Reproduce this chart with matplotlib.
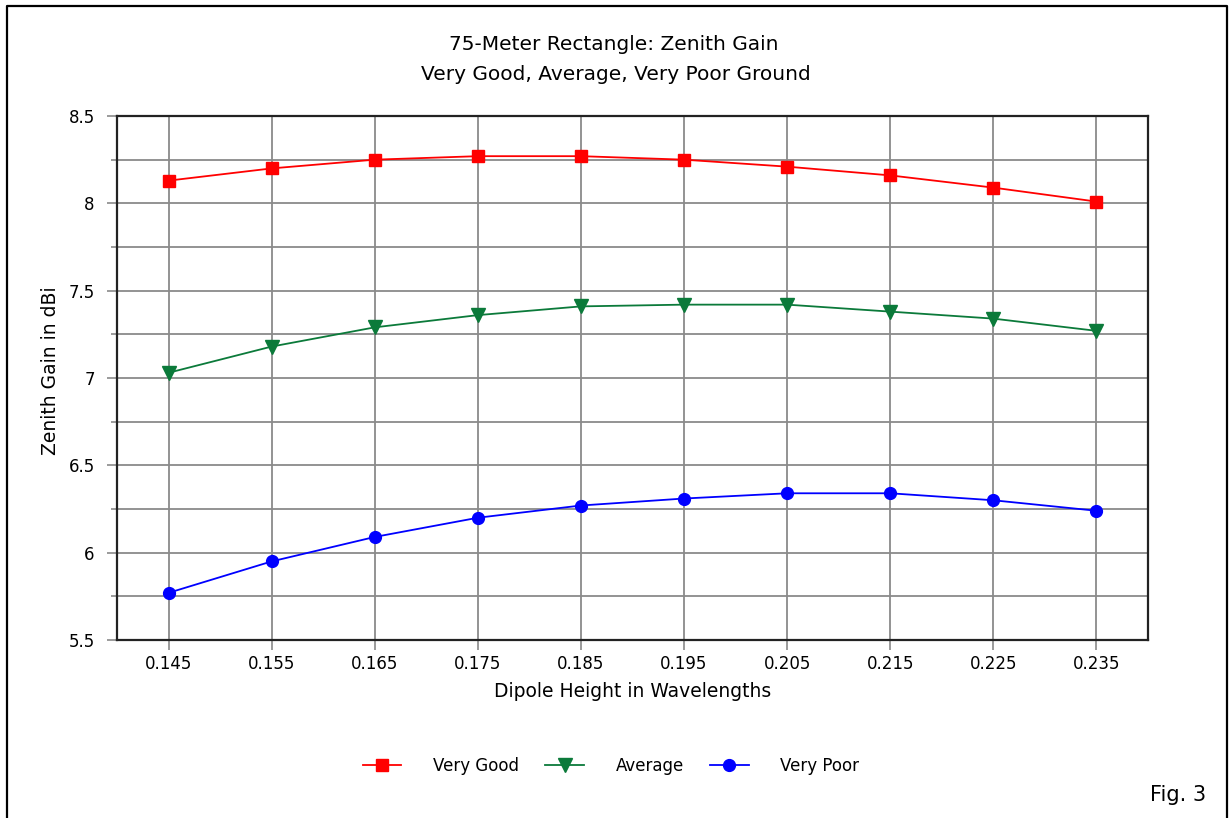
import numpy as np
import matplotlib
matplotlib.use("Agg")
import matplotlib.pyplot as plt
from matplotlib.lines import Line2D
from matplotlib.ticker import MultipleLocator, FuncFormatter

# data
heights = [0.145, 0.155, 0.165, 0.175, 0.185, 0.195, 0.205, 0.215, 0.225, 0.235]
very_good = [8.13, 8.20, 8.25, 8.27, 8.27, 8.25, 8.21, 8.16, 8.09, 8.01]
average = [7.03, 7.18, 7.29, 7.36, 7.41, 7.42, 7.42, 7.38, 7.34, 7.27]
very_poor = [5.77, 5.95, 6.09, 6.20, 6.27, 6.31, 6.34, 6.34, 6.30, 6.24]
x_ticklabels = ["0.145", "0.155", "0.165", "0.175", "0.185",
                "0.195", "0.205", "0.215", "0.225", "0.235"]

plt.rcParams['font.family'] = ['DejaVu Sans']

W, H = 1231, 818
fig = plt.figure(figsize=(W / 100, H / 100), dpi=100)

# pixel -> figure fraction
px = lambda x: x / W
py = lambda y: 1 - y / H

# frame around the picture (bottom edge is cut off in the original)
fig.add_artist(Line2D([px(7), px(7), px(1227), px(1227)],
                      [py(830), py(6), py(6), py(830)],
                      color="black", lw=1.6, transform=fig.transFigure))

ax = fig.add_axes([px(117), py(640), (1148 - 117) / W, (640 - 116) / H])

GRID = "#8a8a8a"
ax.plot(heights, very_good, color="#ff0000", lw=1.3, marker="s", ms=8.5, label="Very Good", zorder=5)
ax.plot(heights, average, color="#0b7a3a", lw=1.3, marker="v", ms=10, label="Average", zorder=5)
ax.plot(heights, very_poor, color="#0000ff", lw=1.3, marker="o", ms=8.5, label="Very Poor", zorder=5)

ax.set_xlim(0.140, 0.240)
ax.set_ylim(5.5, 8.5)
ax.set_xticks(heights)
ax.set_xticklabels(x_ticklabels)
ax.yaxis.set_major_locator(MultipleLocator(0.5))
ax.yaxis.set_minor_locator(MultipleLocator(0.25))
ax.yaxis.set_major_formatter(FuncFormatter(lambda v, p: f"{v:g}"))

ax.grid(True, which="both", color=GRID, lw=1.3, zorder=0)
ax.set_axisbelow(True)
for s in ax.spines.values():
    s.set_color("#222222")
    s.set_linewidth(1.6)

ax.tick_params(axis="y", which="major", length=7, width=1.2, color=GRID, labelsize=12, pad=9)
ax.tick_params(axis="y", which="minor", length=4, width=1.2, color=GRID)
ax.tick_params(axis="x", length=7, width=1.2, color=GRID, labelsize=12, pad=4)

ax.set_xlabel("Dipole Height in Wavelengths", fontsize=13.5, labelpad=6)
ax.set_ylabel("Zenith Gain in dBi", fontsize=13.5)
ax.yaxis.set_label_coords((60 - 117) / (1148 - 117), (640 - 371) / (640 - 116))

fig.text(px(614), py(44), "75-Meter Rectangle: Zenith Gain", fontsize=14.5, ha="center", va="center")
fig.text(px(616), py(75), "Very Good, Average, Very Poor Ground", fontsize=14.5, ha="center", va="center")

fig.legend(loc="center", bbox_to_anchor=(px(611), py(766)), ncol=3, frameon=False,
           fontsize=12, handlelength=2.3, columnspacing=1.6, handletextpad=1.9)

fig.text(px(1178), py(795), "Fig. 3", fontsize=15, ha="center", va="center")

fig.savefig("out.png", dpi=100)
